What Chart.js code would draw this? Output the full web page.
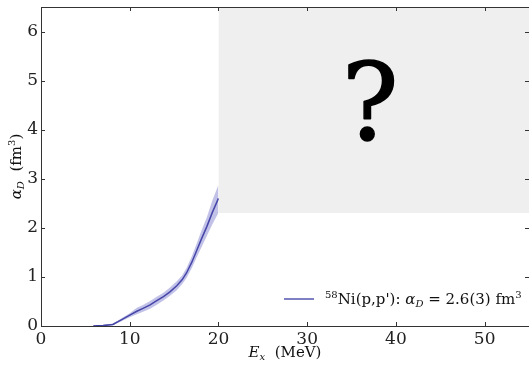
<!DOCTYPE html>
<html>
<head>
<meta charset="utf-8">
<script src="https://cdn.jsdelivr.net/npm/chart.js@4.4.1/dist/chart.umd.min.js"></script>
<style>
  html, body { margin: 0; padding: 0; background: #fff; }
  #wrap { width: 529px; height: 365px; }
</style>
</head>
<body>
<div id="wrap"><canvas id="dipole"></canvas></div>

<script>
  // excitation energy (MeV) and running sum of the dipole polarizability (fm^3)
  const energy = [5.9, 7.0, 8.1, 9.0, 10.0, 10.8, 11.5, 12.3, 13.0, 13.8, 14.5, 15.3, 15.9, 16.4, 17.0, 17.55, 18.1, 18.7, 19.3, 20.0];
  const alphaD = [0.0, 0.01, 0.03, 0.12, 0.22, 0.30, 0.36, 0.43, 0.51, 0.60, 0.69, 0.82, 0.94, 1.08, 1.30, 1.54, 1.78, 2.03, 2.31, 2.60];
  const alphaUpper = [0.01, 0.02, 0.05, 0.15, 0.26, 0.37, 0.43, 0.51, 0.59, 0.68, 0.78, 0.91, 1.03, 1.18, 1.42, 1.68, 1.95, 2.22, 2.55, 2.88];
  const alphaLower = [0.0, 0.0, 0.02, 0.09, 0.18, 0.24, 0.29, 0.35, 0.43, 0.52, 0.61, 0.73, 0.85, 0.98, 1.18, 1.40, 1.61, 1.84, 2.07, 2.31];

  // unknown region above 20 MeV
  const unknownX = [20, 55];
  const unknownTop = [6.5, 6.5];
  const unknownBottom = 2.3;

  const xTicks = [0, 10, 20, 30, 40, 50];
  const yTicks = [0, 1, 2, 3, 4, 5, 6];

  const legendLabel = "58Ni(p,p'): αD = 2.6(3) fm3";

  const SERIF = '"DejaVu Serif", serif';
  const pts = (xs, ys) => xs.map((x, i) => ({ x: x, y: ys[i] }));

  // draw runs of text with sup/sub parts
  function drawRuns(ctx, runs, x, y) {
    runs.forEach(r => {
      ctx.font = r.font;
      ctx.fillText(r.t, x, y + (r.dy || 0));
      x += ctx.measureText(r.t).width;
    });
    return x;
  }
  function runsWidth(ctx, runs) {
    let w = 0;
    runs.forEach(r => { ctx.font = r.font; w += ctx.measureText(r.t).width; });
    return w;
  }

  const frame = {
    id: 'frame',
    afterDatasetsDraw(chart) {
      const { ctx, chartArea: a, scales } = chart;
      const xs = scales.x, ys = scales.y;
      ctx.save();

      // big question mark in the unknown region
      ctx.fillStyle = '#000';
      ctx.strokeStyle = '#000';
      ctx.lineWidth = 1.5;
      ctx.lineJoin = 'round';
      ctx.font = '106px ' + SERIF;
      ctx.textAlign = 'center';
      ctx.textBaseline = 'alphabetic';
      const qx = xs.getPixelForValue(37.1), qy = ys.getPixelForValue(3.82);
      ctx.fillText('?', qx, qy);
      ctx.strokeText('?', qx, qy);

      // box and inward ticks
      ctx.strokeStyle = '#333';
      ctx.lineWidth = 1;
      ctx.strokeRect(a.left + 0.5, a.top + 0.5, a.right - a.left, a.bottom - a.top);
      ctx.beginPath();
      xTicks.forEach(v => {
        const px = Math.round(xs.getPixelForValue(v)) + 0.5;
        ctx.moveTo(px, a.bottom); ctx.lineTo(px, a.bottom - 4);
        ctx.moveTo(px, a.top); ctx.lineTo(px, a.top + 4);
      });
      yTicks.forEach(v => {
        const py = Math.round(ys.getPixelForValue(v)) + 0.5;
        ctx.moveTo(a.left, py); ctx.lineTo(a.left + 4, py);
        ctx.moveTo(a.right, py); ctx.lineTo(a.right - 4, py);
      });
      ctx.stroke();

      // axis titles
      ctx.fillStyle = '#111';
      ctx.textAlign = 'left';
      const xt = [
        { t: 'E', font: 'italic 15px ' + SERIF },
        { t: 'x', font: 'italic 10px ' + SERIF, dy: 3 },
        { t: '  (MeV)', font: '15px ' + SERIF }
      ];
      const cx = (a.left + a.right) / 2;
      drawRuns(ctx, xt, cx - runsWidth(ctx, xt) / 2, 357);

      const yt = [
        { t: 'α', font: 'italic 15px ' + SERIF },
        { t: 'D', font: 'italic 10px ' + SERIF, dy: 3 },
        { t: '  (fm', font: '15px ' + SERIF },
        { t: '3', font: '10px ' + SERIF, dy: -6 },
        { t: ')', font: '15px ' + SERIF }
      ];
      ctx.save();
      ctx.translate(21, (a.top + a.bottom) / 2);
      ctx.rotate(-Math.PI / 2);
      drawRuns(ctx, yt, -runsWidth(ctx, yt) / 2, 0);
      ctx.restore();

      // legend
      ctx.strokeStyle = '#7f7fc4';
      ctx.lineWidth = 2;
      ctx.beginPath();
      ctx.moveTo(284, 299); ctx.lineTo(314, 299);
      ctx.stroke();
      ctx.fillStyle = '#111';
      drawRuns(ctx, [
        { t: '58', font: '10px ' + SERIF, dy: -6 },
        { t: "Ni(p,p'): ", font: '15px ' + SERIF },
        { t: 'α', font: 'italic 15px ' + SERIF },
        { t: 'D', font: 'italic 10px ' + SERIF, dy: 3 },
        { t: ' = 2.6(3) fm', font: '15px ' + SERIF },
        { t: '3', font: '10px ' + SERIF, dy: -6 }
      ], 325, 304);
      ctx.restore();
    }
  };

  const noPad = s => { s.paddingTop = 0; s.paddingBottom = 0; s.paddingLeft = 0; s.paddingRight = 0; };

  new Chart(document.getElementById('dipole'), {
    type: 'line',
    data: {
      datasets: [
        {
          label: 'unknown',
          data: pts(unknownX, unknownTop),
          borderWidth: 0,
          pointRadius: 0,
          backgroundColor: '#efefef',
          fill: { value: unknownBottom }
        },
        {
          label: 'lower',
          data: pts(energy, alphaLower),
          borderWidth: 0,
          pointRadius: 0,
          fill: false
        },
        {
          label: legendLabel,
          data: pts(energy, alphaUpper),
          borderWidth: 0,
          pointRadius: 0,
          backgroundColor: 'rgba(120, 120, 205, 0.45)',
          fill: '-1'
        },
        {
          label: 'alphaD',
          data: pts(energy, alphaD),
          borderColor: '#1e1e8c',
          borderWidth: 1.5,
          pointRadius: 0,
          fill: false
        }
      ]
    },
    options: {
      responsive: true,
      maintainAspectRatio: false,
      animation: false,
      layout: { padding: { top: 7, right: 0, left: 0, bottom: 0 } },
      plugins: { legend: { display: false }, tooltip: { enabled: false } },
      scales: {
        x: {
          type: 'linear',
          min: 0, max: 55,
          grid: { display: false, drawTicks: false },
          border: { display: false },
          afterFit: s => { s.height = 39; noPad(s); },
          afterBuildTicks: s => { s.ticks = xTicks.map(v => ({ value: v })); },
          ticks: { color: '#222', font: { family: SERIF, size: 17 }, padding: 3, maxRotation: 0 }
        },
        y: {
          min: 0, max: 6.5,
          grid: { display: false, drawTicks: false },
          border: { display: false },
          afterFit: s => { s.width = 41; noPad(s); },
          afterBuildTicks: s => { s.ticks = yTicks.map(v => ({ value: v })); },
          ticks: { color: '#222', font: { family: SERIF, size: 17 }, padding: 3 }
        }
      }
    },
    plugins: [frame]
  });
</script>
</body>
</html>
